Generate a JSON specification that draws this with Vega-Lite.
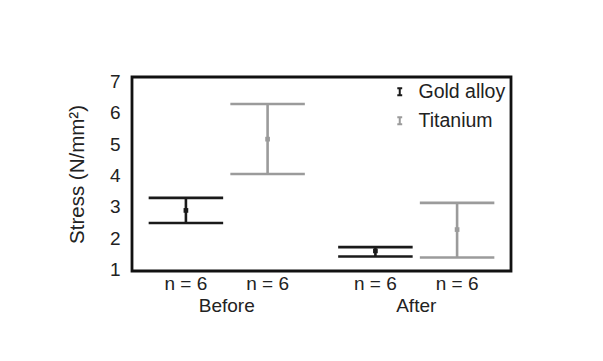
{
  "$schema": "https://vega.github.io/schema/vega-lite/v6.json",
  "width": 379,
  "height": 194,
  "autosize": {"type": "none"},
  "padding": {"left": 132, "top": 77, "right": 92, "bottom": 90},
  "background": "white",
  "config": {
    "font": "Liberation Sans",
    "view": {"stroke": "#111111", "strokeWidth": 2.8},
    "axis": {
      "labelFont": "Liberation Sans",
      "labelFontSize": 19,
      "labelColor": "#222222",
      "titleFont": "Liberation Sans",
      "titleFontSize": 19,
      "titleFontWeight": "normal",
      "titleColor": "#222222",
      "grid": false,
      "ticks": false,
      "domain": false,
      "labelOverlap": false,
      "labelFlush": false
    },
    "axisY": {
      "title": "Stress (N/mm²)",
      "values": [1, 2, 3, 4, 5, 6, 7],
      "tickCount": 7,
      "labelOverlap": false,
      "labelPadding": 12,
      "titlePadding": 22,
      "titleFontSize": 20.5
    },
    "legend": {
      "labelFont": "Liberation Sans",
      "labelFontSize": 19,
      "labelColor": "#222222"
    }
  },
  "data": {
    "values": [
      {"time": "Before", "material": "Gold alloy", "mean": 2.89, "lo": 2.49, "hi": 3.29, "n": 6},
      {"time": "Before", "material": "Titanium", "mean": 5.16, "lo": 4.05, "hi": 6.28, "n": 6},
      {"time": "After", "material": "Gold alloy", "mean": 1.6, "lo": 1.42, "hi": 1.72, "n": 6},
      {"time": "After", "material": "Titanium", "mean": 2.28, "lo": 1.39, "hi": 3.13, "n": 6}
    ]
  },
  "encoding": {
    "x": {
      "field": "time",
      "type": "nominal",
      "sort": ["Before", "After"],
      "scale": {"paddingInner": 0, "paddingOuter": 0},
      "axis": {"title": null, "labelAngle": 0, "labelPadding": 25}
    },
    "xOffset": {
      "field": "material",
      "type": "nominal",
      "sort": ["Gold alloy", "Titanium"],
      "scale": {"paddingInner": 0, "paddingOuter": 0.16}
    }
  },
  "layer": [
    {
      "mark": {"type": "rule", "strokeWidth": 2.6},
      "encoding": {
        "y": {
          "field": "lo",
          "type": "quantitative",
          "title": "Stress (N/mm²)",
          "scale": {"domain": [0.96, 7.14], "nice": false, "zero": false},
          "axis": {"title": "Stress (N/mm²)", "values": [1, 2, 3, 4, 5, 6, 7], "tickCount": 7, "labelOverlap": false}
        },
        "y2": {"field": "hi"},
        "color": {
          "field": "material",
          "type": "nominal",
          "scale": {"domain": ["Gold alloy", "Titanium"], "range": ["#1a1a1a", "#9b9b9b"]},
          "legend": {
            "title": null,
            "orient": "top-right",
            "offset": 5,
            "padding": 0,
            "symbolType": "M-0.7,-1H0.7M0,-1V1M-0.7,1H0.7",
            "symbolSize": 49,
            "symbolStrokeWidth": 2,
            "labelOffset": 9,
            "labelFontSize": 19.5,
            "rowPadding": 8
          }
        }
      }
    },
    {
      "mark": {"type": "tick", "size": 74.5, "thickness": 2.6, "opacity": 1},
      "encoding": {
        "y": {"field": "lo", "type": "quantitative", "title": "Stress (N/mm²)", "axis": {"title": "Stress (N/mm²)", "values": [1, 2, 3, 4, 5, 6, 7], "tickCount": 7, "labelOverlap": false}},
        "color": {"field": "material", "type": "nominal"}
      }
    },
    {
      "mark": {"type": "tick", "size": 74.5, "thickness": 2.6, "opacity": 1},
      "encoding": {
        "y": {"field": "hi", "type": "quantitative", "title": "Stress (N/mm²)", "axis": {"title": "Stress (N/mm²)", "values": [1, 2, 3, 4, 5, 6, 7], "tickCount": 7, "labelOverlap": false}},
        "color": {"field": "material", "type": "nominal"}
      }
    },
    {
      "mark": {"type": "square", "size": 22, "opacity": 1, "filled": true},
      "encoding": {
        "y": {"field": "mean", "type": "quantitative", "title": "Stress (N/mm²)", "axis": {"title": "Stress (N/mm²)", "values": [1, 2, 3, 4, 5, 6, 7], "tickCount": 7, "labelOverlap": false}},
        "color": {"field": "material", "type": "nominal"}
      }
    },
    {
      "transform": [{"calculate": "'n = ' + datum.n", "as": "nlabel"}],
      "mark": {"type": "text", "fontSize": 19, "color": "#222222", "dy": 13, "baseline": "middle"},
      "encoding": {
        "y": {"value": "height"},
        "text": {"field": "nlabel", "type": "nominal"}
      }
    }
  ]
}
